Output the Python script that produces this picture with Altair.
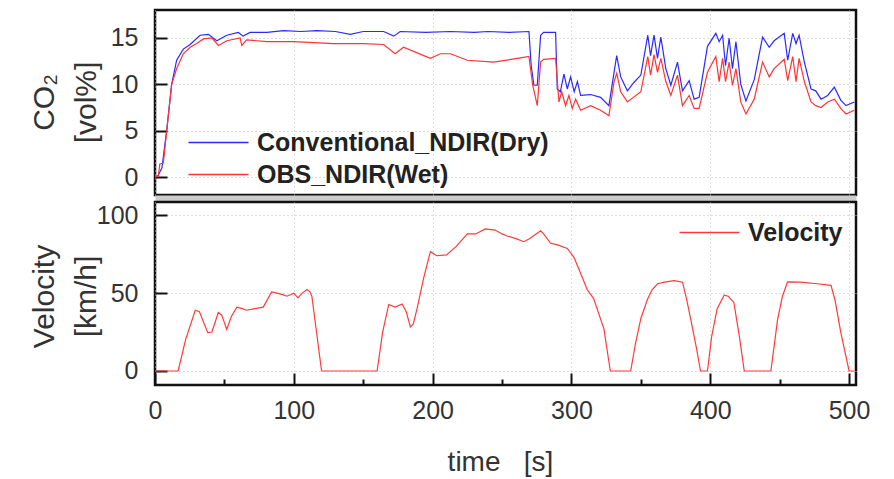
import altair as alt
import pandas as pd

# ---------------- data ----------------
t_dry = [0, 2.4, 5, 8.4, 12, 15.6, 20.4, 25.3, 32.5, 38.5, 44.5, 51.7, 60, 63.5, 68.5,
         80.6, 92.6, 105, 116.6, 130, 140.7, 150, 164.7, 172, 176.6, 195, 212.8, 230, 240,
         255, 269.4, 271, 273, 275.4, 277.8, 280, 288.6, 289.8, 292, 294.6, 297, 299.4,
         302, 304.3, 306.6, 313.8, 321, 327, 330.7, 332.6, 335.5, 340.3, 345, 350, 355,
         357, 359.5, 362, 364.4, 368, 371.6, 376.4, 380, 384.8, 388.4, 392, 398, 404,
         406.4, 408.9, 411, 413.6, 416, 418.5, 422, 425.7, 431.7, 437.7, 442.5, 446,
         453.3, 455.8, 459.4, 461.8, 464, 467.8, 472.6, 476, 479.8, 484.6, 489.4, 494,
         497.8, 503.8]
co2_dry = [0, 0.2, 1.0, 5.0, 10.0, 12.6, 13.8, 14.3, 15.3, 15.4, 14.7, 15.3, 15.6, 15.2, 15.6,
           15.6, 15.8, 15.7, 15.8, 15.7, 15.4, 15.7, 15.7, 15.2, 15.7, 15.6, 15.7, 15.6, 15.7,
           15.6, 15.7, 12.0, 9.9, 9.9, 15.3, 15.6, 15.6, 9.5, 9.2, 11.1, 9.5, 10.8,
           9.2, 10.3, 8.8, 8.9, 8.6, 7.7, 11.3, 13.1, 10.8, 9.3, 10.2, 11.0, 15.3,
           13.1, 15.3, 12.8, 15.1, 11.7, 9.9, 12.4, 9.3, 10.4, 8.4, 8.6, 14.1, 15.5,
           14.6, 15.3, 12.0, 15.0, 11.7, 14.6, 10.0, 8.2, 10.5, 15.1, 14.0, 14.7,
           15.5, 12.6, 15.5, 14.4, 15.3, 12.4, 9.5, 9.3, 8.4, 8.8, 9.7, 8.3,
           7.7, 8.1]

t_wet = [0, 2.4, 3.5, 6, 8.4, 12, 15.6, 20.4, 25.3, 30, 34.9, 41, 45.7, 51.7, 61.3, 62.5,
         66, 80.6, 100, 128.6, 150, 164.7, 173, 179, 193.6, 198.4, 205.6, 212.8, 225, 244,
         261, 269.4, 272, 275.4, 277.8, 280, 288.6, 291, 293, 295.8, 298.2, 300.6, 303,
         306.6, 313.8, 321, 327, 330.7, 332.6, 335.5, 340.3, 350, 355, 357, 359.5, 362,
         364.4, 368, 371.6, 376.4, 380, 384.8, 388.4, 392, 398, 404, 406.4, 408.9, 411,
         413.6, 416, 418.5, 422, 425.7, 431.7, 437.7, 442.5, 446, 453.3, 455.8, 459.4,
         461.8, 464, 467.8, 472.6, 476, 479.8, 484.6, 489.4, 494, 497.8, 503.8]
co2_wet = [0, 0.1, 1.4, 1.5, 4.9, 10.0, 11.7, 13.3, 14.0, 14.4, 14.9, 15.0, 14.2, 14.7, 15.0, 14.2,
           14.8, 14.6, 14.6, 14.4, 14.4, 14.3, 13.3, 14.0, 13.1, 12.8, 13.3, 13.3, 12.6, 12.4,
           12.8, 13.0, 10.0, 7.7, 12.4, 12.7, 12.8, 8.1, 9.2, 7.7, 8.8, 7.4, 8.4,
           7.2, 7.7, 7.2, 6.6, 10.3, 11.2, 9.2, 8.1, 9.2, 13.0, 11.0, 13.2, 11.3,
           12.8, 10.3, 8.8, 11.0, 7.7, 8.8, 7.4, 7.4, 11.3, 13.0, 10.3, 12.8, 10.3,
           12.4, 9.9, 11.7, 8.1, 6.8, 8.4, 12.4, 10.8, 11.7, 12.7, 10.4, 13.0,
           10.3, 12.8, 10.3, 8.1, 7.7, 7.5, 8.1, 8.4, 7.4, 6.8, 7.2]

t_vel = [0, 16.7, 22, 29, 32, 38, 41, 45.6, 48, 51.7, 55, 59, 63, 66, 72, 78, 84, 88, 92, 95,
         100, 103, 106, 109.5, 111.5, 113, 120, 160, 164, 168.4, 173, 178, 181, 184, 186,
         188.8, 193.6, 198.4, 203, 210, 217, 225, 231, 238, 245, 250, 253.7, 260, 265.7,
         270, 277.8, 280, 285, 290, 297, 301.8, 306, 311.5, 316, 320, 323.4, 328, 342.7,
         346, 350, 354.8, 358, 362, 367, 374, 380, 383, 386, 390, 393, 398, 401, 405, 410,
         413, 417, 421, 424.5, 443.7, 448.5, 452, 455.7, 465, 477, 487, 490, 494, 500, 504]
vel = [0, 0, 20, 39, 38, 24.6, 25, 37.5, 36, 26.6, 35, 41, 40, 39, 40, 41, 50.8, 50, 49, 48,
       50, 47, 50, 52.3, 51, 48, 0, 0, 25, 42.7, 41, 43, 38, 28.3, 30,
       40, 60, 76.6, 74, 74.5, 80, 88, 88, 91.2, 90.5, 88, 86.7, 85, 83,
       85, 90, 88, 82, 81, 78.7, 73, 64, 52, 46.5, 36, 27, 0, 0,
       17, 33.7, 46, 52, 56, 57, 58, 57, 46, 33, 15, 0, 0, 22, 40, 48.7,
       48, 44, 22, 0, 0, 33, 48, 57.2, 57, 56, 55, 45, 25, 0, 0]

co2_series = ["Conventional_NDIR(Dry)", "OBS_NDIR(Wet)"]
co2_colors = ["#2a2aff", "#ff3434"]
vel_series = ["Velocity"]
vel_colors = ["#ff3a3a"]

x_major = [0, 100, 200, 300, 400, 500]
x_minor = [50, 150, 250, 350, 450]
co2_ticks = [0, 5, 10, 15]
vel_ticks = [0, 50, 100]

# ---------------- tables ----------------
co2_df = pd.concat([
    pd.DataFrame({"t": t_dry, "v": co2_dry, "s": co2_series[0]}),
    pd.DataFrame({"t": t_wet, "v": co2_wet, "s": co2_series[1]}),
])
vel_df = pd.DataFrame({"t": t_vel, "v": vel, "s": vel_series[0]})

W = 701
FONT = "Liberation Sans"
NB = "\u00a0"
xscale = alt.Scale(domain=[0, 505], nice=False, zero=False)
frame = alt.ViewBackground(stroke="#111111", strokeWidth=2.5)

grid_kw = dict(grid=True, gridColor="#bdbdbd", gridDash=[1, 3], gridWidth=1)
tick_kw = dict(domain=False, tickWidth=2, tickColor="#111111")
# long flat legend stroke (60 px) on a small symbol footprint
legend_kw = dict(title=None, orient="none", symbolType="M-3,0H3", symbolSize=400,
                 symbolStrokeWidth=1.5, labelFontSize=25, labelFontWeight="bold",
                 labelColor="#222222", labelOffset=26, labelLimit=0, padding=0)

top = alt.Chart(co2_df).mark_line(strokeWidth=1.2, clip=True).encode(
    x=alt.X("t:Q", scale=xscale,
            axis=alt.Axis(title=None, labels=False, ticks=False, domain=False,
                          values=x_major, **grid_kw)),
    y=alt.Y("v:Q", scale=alt.Scale(domain=[-1.94, 18.02], nice=False, zero=False),
            axis=alt.Axis(title=["CO₂", "[vol%]"], values=co2_ticks,
                          tickSize=12, offset=-12, labelPadding=17,
                          titleAngle=-90, titleBaseline="top", titleAlign="center",
                          titleX=-138, titleY=92, titleLineHeight=42,
                          **tick_kw, **grid_kw)),
    color=alt.Color("s:N", scale=alt.Scale(domain=co2_series, range=co2_colors),
                    legend=alt.Legend(legendX=51, legendY=120, rowPadding=6, **legend_kw)),
).properties(width=W, height=185, view=frame)

band = alt.Chart(pd.DataFrame({"t": [0]})).mark_point(opacity=0).encode(
    x=alt.X("t:Q", axis=None)
).properties(width=W, height=7,
             view=alt.ViewBackground(fill="#cdcdcd", stroke="transparent"))

vel_line = alt.Chart(vel_df).mark_line(strokeWidth=1.2, clip=True).encode(
    x=alt.X("t:Q", scale=xscale,
            axis=alt.Axis(title="time" + NB * 3 + "[s]", values=x_major,
                          tickSize=12, offset=-12, labelPadding=13, labelFlush=False,
                          titlePadding=25, titleFontSize=28, titleX=345,
                          titleAlign="center", **tick_kw, **grid_kw)),
    y=alt.Y("v:Q", scale=alt.Scale(domain=[-9, 108.5], nice=False, zero=False),
            axis=alt.Axis(title=["Velocity", "[km/h]"], values=vel_ticks,
                          tickSize=12, offset=-12, labelPadding=17,
                          titleAngle=-90, titleBaseline="top", titleAlign="center",
                          titleX=-138, titleY=94, titleLineHeight=42,
                          **tick_kw, **grid_kw)),
    color=alt.Color("s:N", scale=alt.Scale(domain=vel_series, range=vel_colors),
                    legend=alt.Legend(legendX=542, legendY=18, **legend_kw)),
)

vel_minor = alt.Chart(vel_df).mark_line(opacity=0).encode(
    x=alt.X("t:Q", scale=xscale,
            axis=alt.Axis(title=None, labels=False, values=x_minor, grid=False,
                          tickSize=6, offset=-6, orient="bottom", **tick_kw)),
    y=alt.Y("v:Q", axis=None),
)

bottom = alt.layer(vel_line, vel_minor).resolve_axis(
    x="independent", y="independent"
).properties(width=W, height=183, view=frame)

chart = alt.vconcat(top, band, bottom, spacing=0, bounds="flush").resolve_scale(
    color="independent"
).properties(
    padding={"left": 19, "top": 0, "right": 5, "bottom": 0}
).configure(font=FONT).configure_axis(
    labelFont=FONT, labelFontSize=25, labelColor="#333333",
    titleFont=FONT, titleFontSize=30, titleColor="#333333", titleFontWeight="normal"
).configure_legend(labelFont=FONT)

chart.save("out.html", embed_options={"renderer": "svg", "actions": False})
